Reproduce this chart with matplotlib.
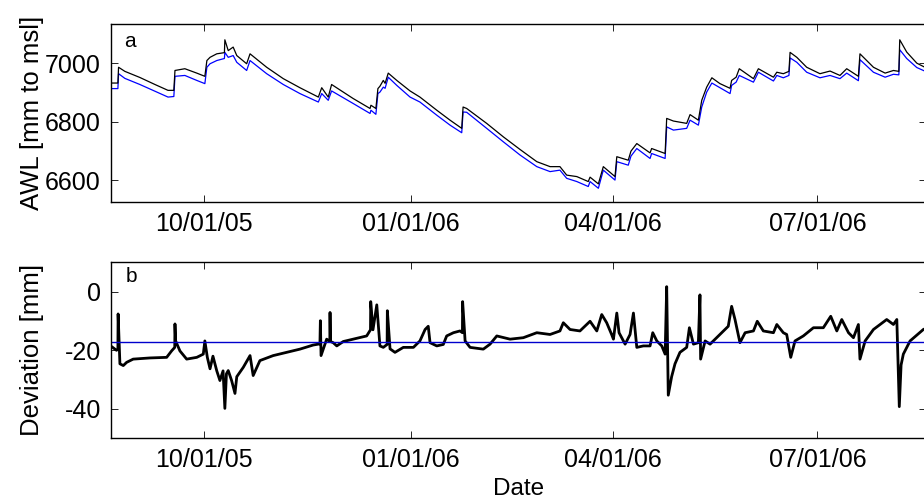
import numpy as np
import matplotlib
matplotlib.use("Agg")
import matplotlib.pyplot as plt
import matplotlib.dates as mdates

plt.rcParams['font.family'] = ['Liberation Sans', 'DejaVu Sans']
plt.rcParams['axes.unicode_minus'] = False

start = np.datetime64('2005-08-20T00:00')

# panel a: water level, days after start
awl_days = [0.5, 3.7, 4.0, 6.8, 13.5, 20.2, 26.0, 28.6, 29.1, 33.5, 38.8, 42.4,
            43.3, 44.7, 47.7, 51.1, 51.3, 52.8, 55.0, 56.6, 61.0, 62.5, 69.9,
            77.3, 84.7, 92.9, 94.4, 97.3, 98.8, 108.4, 115.9, 116.3, 118.5,
            119.4, 120.3, 121.8, 122.6, 124.0, 127.8, 133.7, 138.1, 145.6,
            151.5, 156.7, 157.3, 158.9, 167.8, 175.2, 182.6, 190.1, 196.0,
            200.4, 203.4, 207.9, 213.0, 213.8, 217.5, 219.7, 224.9, 225.7,
            230.8, 232.0, 234.6, 240.5, 241.2, 247.2, 247.9, 250.9, 256.8,
            258.3, 262.0, 263.5, 265.7, 268.0, 271.6, 276.1, 276.8, 278.8,
            280.2, 286.5, 288.7, 295.4, 296.9, 299.8, 302.3, 302.8, 305.8,
            310.2, 316.1, 320.6, 325.0, 328.0, 333.2, 333.9, 339.9, 345.1,
            348.8, 351.2, 351.6, 354.7, 359.2, 363.3]
awl_black = [6932, 6932, 6986, 6972, 6951, 6927, 6907, 6907, 6975, 6981, 6966, 6955,
             7009, 7020, 7032, 7036, 7080, 7043, 7055, 7026, 6998, 7032, 6986,
             6947, 6916, 6884, 6916, 6884, 6927, 6879, 6845, 6856, 6845,
             6913, 6921, 6941, 6931, 6966, 6941, 6905, 6884, 6839,
             6805, 6777, 6850, 6845, 6794, 6748, 6705, 6663, 6646,
             6646, 6617, 6612, 6595, 6610, 6587, 6646, 6612, 6680,
             6668, 6699, 6725, 6693, 6708, 6691, 6811, 6802, 6794,
             6824, 6805, 6873, 6918, 6950, 6930, 6914, 6941, 6952,
             6981, 6947, 6981, 6952, 6969, 6964, 6972, 7037, 7020,
             6986, 6964, 6973, 6958, 6981, 6955, 7032, 6986, 6966,
             6975, 6972, 7080, 7038, 7000, 6984]
awl_blue = [6913, 6913, 6964, 6948, 6927, 6904, 6884, 6886, 6955, 6958, 6941, 6930,
            6986, 6998, 7009, 7016, 7037, 7020, 7026, 7003, 6975, 7009, 6964,
            6927, 6896, 6867, 6896, 6873, 6905, 6862, 6828, 6839, 6825,
            6896, 6901, 6918, 6914, 6952, 6924, 6884, 6867, 6822,
            6788, 6762, 6833, 6832, 6777, 6731, 6686, 6646, 6629,
            6634, 6606, 6595, 6578, 6595, 6572, 6634, 6600, 6663,
            6651, 6682, 6708, 6674, 6691, 6674, 6782, 6771, 6777,
            6805, 6788, 6850, 6901, 6932, 6916, 6896, 6924, 6935,
            6958, 6935, 6969, 6939, 6958, 6950, 6958, 7018, 7003,
            6969, 6950, 6958, 6947, 6966, 6940, 7012, 6969, 6952,
            6962, 6960, 7046, 7016, 6985, 6971]

# panel b: deviation
dev_days = [0.5, 3.1, 3.7, 3.8, 4.6, 6.1, 7.6, 10.5, 18.0, 25.4, 27.6, 29.0, 29.1,
            29.4, 31.3, 34.3, 38.8, 41.7, 42.4, 43.5, 44.7, 46.0, 47.7, 49.1,
            50.5, 51.3, 52.0, 52.8, 54.3, 55.8, 56.6, 59.5, 62.5, 63.9, 66.9,
            72.8, 78.8, 84.7, 90.6, 93.6, 93.8, 94.1, 96.6, 98.0, 98.1, 98.3,
            99.5, 101.1, 104.0, 110.0, 114.4, 116.1, 116.2, 117.2, 118.9,
            120.3, 121.8, 123.5, 123.6, 124.8, 127.0, 130.7, 135.2, 138.1,
            140.4, 141.8, 142.6, 145.6, 148.5, 150.0, 153.0, 155.9, 157.0,
            157.1, 158.2, 160.4, 166.3, 169.3, 172.3, 178.2, 184.1, 190.1,
            196.0, 200.4, 201.9, 204.9, 209.3, 213.8, 216.8, 219.0, 221.2,
            223.4, 224.2, 225.7, 226.7, 229.4, 231.6, 233.1, 234.6, 237.5,
            240.5, 241.7, 243.5, 245.7, 247.2, 247.9, 248.6, 250.1, 251.6,
            253.8, 256.8, 258.0, 259.8, 262.0, 262.7, 263.0, 265.0, 267.2,
            271.6, 275.3, 276.8, 278.3, 280.5, 282.8, 286.5, 288.2, 290.9,
            295.4, 296.9, 299.8, 301.3, 303.1, 305.0, 308.7, 313.2, 317.6,
            320.9, 323.6, 325.8, 328.8, 331.0, 333.2, 333.9, 336.2, 339.9,
            345.8, 348.8, 350.3, 351.4, 352.2, 353.2, 356.2, 362.1, 363.3]
dev_vals = [-18.5, -20.0, -19.5, -7.6, -24.6, -25.2, -24.1, -23.0, -22.6, -22.4, -20.2, -19.0, -11.0,
            -16.8, -20.2, -23.0, -22.4, -21.3, -16.8, -22.4, -26.3, -22.0, -27.0, -30.3,
            -27.0, -39.8, -28.0, -26.9, -30.3, -34.7, -29.0, -25.8, -21.8, -28.6, -23.5,
            -21.8, -20.7, -19.6, -18.2, -17.8, -9.9, -21.8, -16.2, -17.0, -7.1, -17.0,
            -17.4, -18.5, -17.0, -15.9, -15.1, -13.0, -3.4, -13.0, -4.5,
            -18.5, -19.0, -18.0, -6.5, -19.5, -20.7, -19.0, -19.0, -16.8,
            -12.9, -11.8, -17.4, -18.5, -18.0, -15.1, -14.0, -13.4, -14.0,
            -3.4, -16.8, -19.0, -19.6, -17.9, -15.1, -16.2, -15.7, -14.0,
            -14.6, -13.4, -10.6, -12.9, -13.4, -10.1, -13.4, -7.8, -10.6,
            -14.6, -16.2, -7.3, -14.0, -17.9, -14.6, -7.3, -19.0, -18.5,
            -18.5, -14.0, -16.8, -18.5, -21.3, 1.7, -35.3, -29.0, -24.6,
            -20.7, -19.0, -12.3, -17.9, -17.4, -1.1, -23.0, -16.8, -17.9,
            -14.6, -11.8, -5.0, -9.5, -17.4, -14.0, -13.4, -10.1, -13.4,
            -14.0, -11.2, -14.0, -14.6, -22.4, -16.8, -15.1, -12.3, -12.3,
            -8.4, -13.4, -9.5, -14.0, -15.7, -11.2, -23.0, -16.8, -12.9,
            -9.5, -11.2, -9.5, -39.2, -25.0, -21.3, -16.8, -12.9, -12.5]
dev_mean = -17.0


def to_dates(days):
    secs = (np.array(days) * 86400).astype('int64').astype('timedelta64[s]')
    return start + secs


x_lim = (to_dates([0.5])[0], to_dates([363.3])[0])

fig = plt.figure(figsize=(9.24, 5.03), dpi=100)
ax1 = fig.add_axes([0.1198, 0.5984, 0.8824, 0.3533])
ax2 = fig.add_axes([0.1198, 0.1286, 0.8824, 0.3499])

ax1.plot(to_dates(awl_days), awl_blue, color='#0000ff', lw=0.9)
ax1.plot(to_dates(awl_days), awl_black, color='black', lw=0.9)
ax1.set_ylim(6525, 7133)
ax1.set_yticks([6600, 6800, 7000])
ax1.set_ylabel('AWL [mm to msl]', fontsize=18.5)
ax1.text(0.016, 0.875, 'a', transform=ax1.transAxes, fontsize=15)

ax2.plot(to_dates(dev_days), dev_vals, color='black', lw=2.0)
ax2.axhline(dev_mean, color='#0000cc', lw=1.0)
ax2.set_ylim(-50, 10)
ax2.set_yticks([-40, -20, 0])
ax2.set_ylabel('Deviation [mm]', fontsize=18.5)
ax2.set_xlabel('Date', fontsize=17.5, labelpad=4)
ax2.text(0.019, 0.89, 'b', transform=ax2.transAxes, fontsize=15)

for ax in (ax1, ax2):
    ax.set_xlim(x_lim)
    ax.xaxis.set_major_locator(mdates.MonthLocator(bymonth=[1, 4, 7, 10]))
    ax.xaxis.set_major_formatter(mdates.DateFormatter('%m/%d/%y'))
    ax.tick_params(direction='in', top=True, right=True, length=5, width=0.6,
                   labelsize=18, pad=7)
    for s in ax.spines.values():
        s.set_linewidth(1.0)
    ax.yaxis.set_label_coords(-0.082, 0.5)

fig.savefig('out.png', dpi=100)
